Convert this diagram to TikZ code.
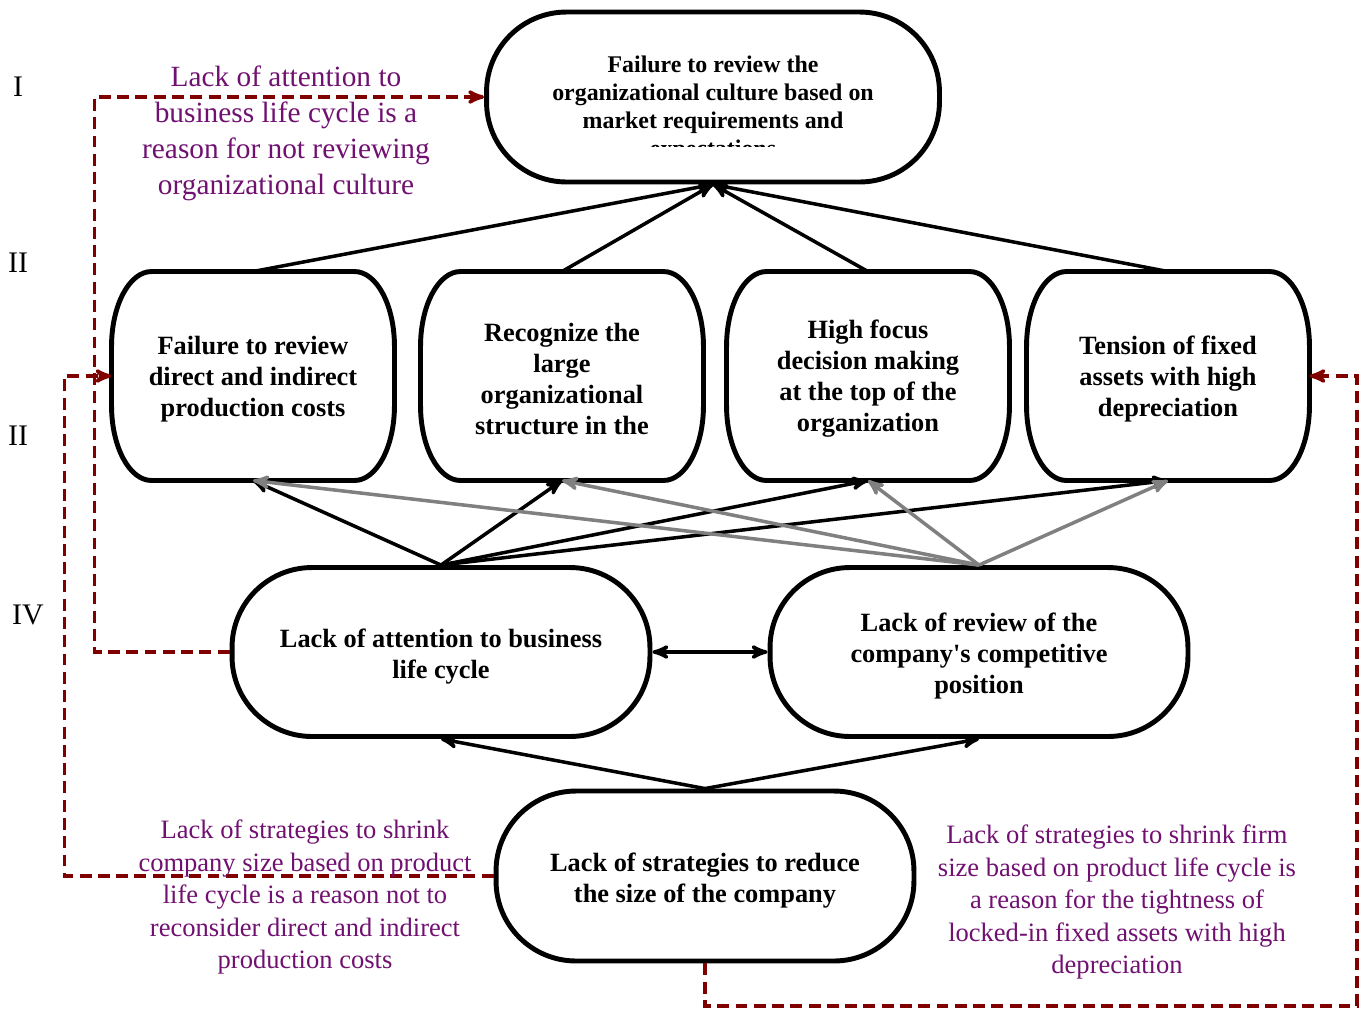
\documentclass[tikz,border=0pt]{standalone}
\usepackage{fontspec}
\setmainfont{Liberation Serif}
\usetikzlibrary{arrows,positioning,calc}
\definecolor{linkred}{RGB}{128,0,0}
\definecolor{notepurple}{RGB}{112,16,112}
\definecolor{midgray}{RGB}{128,128,128}
\newcommand{\lift}{\rule{0pt}{15.5pt}}

\begin{document}
\begin{tikzpicture}[->, >=stealth', x=0.02cm, y=-0.02cm, line width=2pt]
	\tikzstyle{pill}=[draw=black, line width=2.8pt, fill=white, align=center, font=\fontsize{15}{17.6}\selectfont\bfseries, rounded corners=1.6cm, minimum width=8.36cm, minimum height=3.38cm, inner sep=0pt]
	\tikzstyle{cause}=[pill, draw=none, fill=none, outer sep=0pt, minimum width=5.66cm, minimum height=4.18cm]
	\tikzstyle{outline}=[-, draw=black, line width=2.8pt, fill=white]
	\tikzstyle{note}=[align=center, text=notepurple, font=\fontsize{15.1}{18.5}\selectfont]
	\tikzstyle{level}=[font=\fontsize{17}{20}\selectfont]
	\tikzstyle{link}=[draw=linkred, line width=2pt, dash pattern=on 6.8pt off 3.6pt]
	\useasboundingbox (0,0) rectangle (1367,1009);

	% main problem
	\node[pill, minimum width=9.06cm, minimum height=3.4cm] (1) at (713,97) {};
	\begin{scope}
		\clip (487,12) rectangle (940,146);
		\node[align=center, font=\fontsize{13.6}{15.9}\selectfont\bfseries] (1t) at (713,109) {Failure to review the\\organizational culture based on\\market requirements and\\expectations};
	\end{scope}

	% second level
	\node[cause] (2) at (253,376) {};
	\node[cause] (3) at (562,376) {};
	\node[cause] (4) at (868,376) {};
	\node[cause] (5) at (1168,376) {};
	\foreach \n in {2,3,4,5}
		\draw[outline] ([xshift=0.8cm]\n.north west) -- ([xshift=-0.8cm]\n.north east)
			arc[start angle=90, end angle=0, x radius=0.8cm, y radius=1.5cm] -- ([yshift=1.5cm]\n.south east)
			arc[start angle=0, end angle=-90, x radius=0.8cm, y radius=1.5cm] -- ([xshift=0.8cm]\n.south west)
			arc[start angle=-90, end angle=-180, x radius=0.8cm, y radius=1.5cm] -- ([yshift=-1.5cm]\n.north west)
			arc[start angle=180, end angle=90, x radius=0.8cm, y radius=1.5cm] -- cycle;
	\node[cause] (2t) at ($(2)+(0,3)$) {Failure to review\\direct and indirect\\production costs};
	\node[cause] (3t) at ($(3)+(0,3)$) {Recognize the\\large\\organizational\\structure in the};
	\node[cause] (4t) at ($(4)+(0,3)$) {High focus\\decision making\\at the top of the\\organization};
	\node[cause] (5t) at ($(5)+(0,3)$) {Tension of fixed\\assets with high\\depreciation};

	% fourth level
	\node[pill] (6) at (441,652) {\lift Lack of attention to business\\life cycle};
	\node[pill] (7) at (979,652) {\lift Lack of review of the\\company\textquotesingle s competitive\\position};

	% root
	\node[pill, minimum height=3.4cm] (8) at (705,876) {\lift Lack of strategies to reduce\\the size of the company};

	% level marks
	\node[level] (r1) at (18,87) {I};
	\node[level] (r2) at (18,263) {II};
	\node[level] (r3) at (18,436) {II};
	\node[level] (r4) at (28,615) {IV};

	\path
		(2.north) edge (1.south)
		(3.north) edge (1.south)
		(4.north) edge (1.south)
		(5.north) edge (1.south)
		(6.north) edge (2.south)
			edge (3.south)
			edge (4.south)
			edge (5.south)
		(7.north) edge[midgray] (2.south)
			edge[midgray] (3.south)
			edge[midgray] (4.south)
			edge[midgray] (5.south)
		(8.north) edge (6.south)
			edge (7.south)
		(6) edge[<->] (7);

	% dashed links with notes
	\coordinate (c1) at (1357,1006);
	\draw[link] (6.west) -- ++(-135,0) |- (1.west);
	\draw[link] (8.west) -- ++(-429,0) |- (2.west);
	\draw[link] (8.south) |- (c1) |- (5.east);

	\node[note, font=\fontsize{16.7}{20.5}\selectfont] (n1) at (286,133) {Lack of attention to\\business life cycle is a\\reason for not reviewing\\organizational culture};
	\node[note] (n2) at (305,897) {Lack of strategies to shrink\\company size based on product\\life cycle is a reason not to\\reconsider direct and indirect\\production costs};
	\node[note] (n3) at (1117,902) {Lack of strategies to shrink firm\\size based on product life cycle is\\a reason for the tightness of\\locked-in fixed assets with high\\depreciation};
\end{tikzpicture}
\end{document}
